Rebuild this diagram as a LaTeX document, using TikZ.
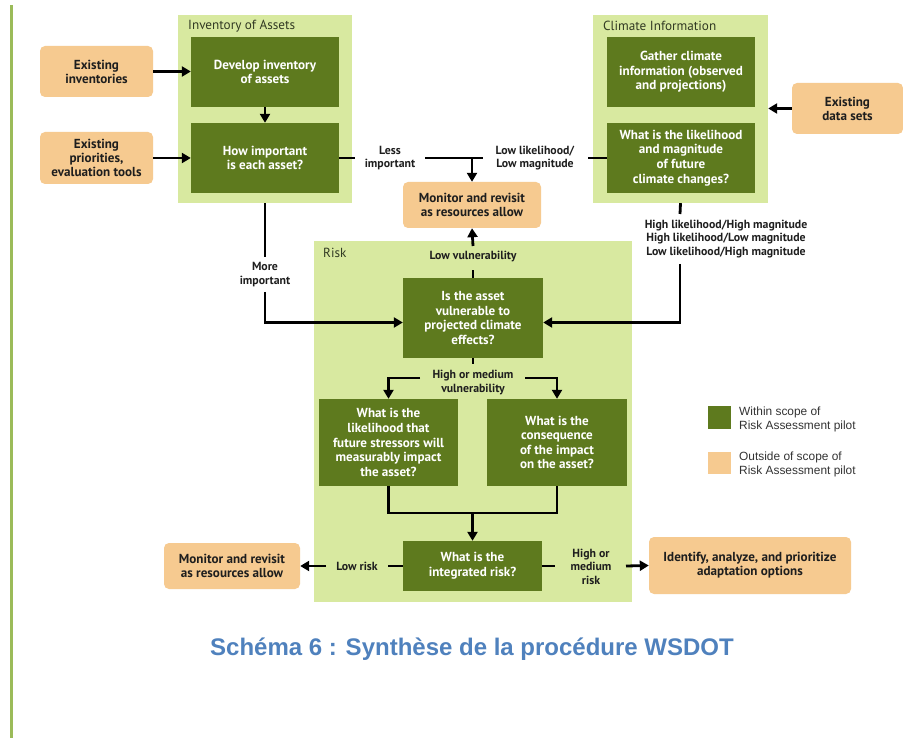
\documentclass[tikz,border=0pt]{standalone}
\usepackage{fontspec}
\setmainfont{PT Sans}
\newfontfamily\legfont{Liberation Sans}
\usetikzlibrary{arrows.meta}
\definecolor{dkgreen}{RGB}{94,122,30}
\definecolor{panelgreen}{RGB}{216,233,160}
\definecolor{orangebox}{RGB}{246,202,144}
\definecolor{barcol}{RGB}{155,187,89}
\definecolor{capblue}{RGB}{79,129,189}
\definecolor{txtdark}{RGB}{30,30,30}
\definecolor{titlecol}{RGB}{50,58,35}
\tikzset{
  panel/.style={fill=panelgreen, draw=none, inner sep=0pt},
  darkbox/.style={fill=dkgreen, draw=none, inner sep=0pt, align=center, text=white,
     font=\bfseries\fontsize{13.1}{14.6}\selectfont},
  orbox/.style={fill=orangebox, draw=none, rounded corners=5pt, inner sep=0pt, align=center,
     text=txtdark, font=\bfseries\fontsize{13.1}{14}\selectfont},
  lbl/.style={align=center, text=txtdark, inner sep=0pt, font=\bfseries\fontsize{11.8}{13.5}\selectfont},
  ptitle/.style={anchor=west, inner sep=0pt, text=titlecol, font=\fontsize{13.2}{14}\selectfont},
  conn/.style={line width=2.8pt, draw=black},
  arr/.style={conn, -{Triangle[length=9pt,width=10pt]}},
  legtxt/.style={anchor=west, align=left, inner sep=0pt, text=black!80, font=\legfont\fontsize{11.9}{14}\selectfont}
}
\begin{document}
\begin{tikzpicture}[x=1pt,y=-1pt]
\useasboundingbox (0,0) rectangle (903,738);
\fill[white] (0,0) rectangle (903,738);
% left bar
\fill[barcol] (10,5) rectangle (13,738);

% panels
\node[panel, minimum width=174, minimum height=188] (inv) at (265,109) {};
\node[panel, minimum width=175, minimum height=188] (clim) at (680.5,109) {};
\node[panel, minimum width=318, minimum height=361] (risk) at (473,421.5) {};
\node[ptitle] (invt) at (188,26) {Inventory of Assets};
\node[ptitle] (climt) at (603,26) {Climate Information};
\node[ptitle] (riskt) at (323,253) {Risk};

% dark boxes
\node[darkbox, minimum width=148, minimum height=70] (dev) at (265,72) {Develop inventory\\of assets};
\node[darkbox, minimum width=148, minimum height=70] (how) at (265,158) {How important\\is each asset?};
\node[darkbox, minimum width=148, minimum height=70] (gather) at (681,72) {Gather climate\\information (observed\\and projections)};
\node[darkbox, minimum width=148, minimum height=70] (like) at (681,158) {What is the likelihood\\and magnitude\\of future\\climate changes?};
\node[darkbox, minimum width=140, minimum height=80] (vul) at (473,318) {Is the asset\\vulnerable to\\projected climate\\effects?};
\node[darkbox, minimum width=139, minimum height=87] (stress) at (388.5,442.5) {What is the\\likelihood that\\future stressors will\\measurably impact\\the asset?};
\node[darkbox, minimum width=140, minimum height=87] (cons) at (557,442.5) {What is the\\consequence\\of the impact\\on the asset?};
\node[darkbox, minimum width=139, minimum height=50] (integ) at (472.5,566) {What is the\\integrated risk?};

% orange boxes
\node[orbox, minimum width=113, minimum height=51] (exinv) at (96.5,71.5) {Existing\\inventories};
\node[orbox, minimum width=113, minimum height=52] (expri) at (96.5,158) {Existing\\priorities,\\evaluation tools};
\node[orbox, minimum width=111, minimum height=51] (exdata) at (847.5,108.5) {Existing\\data sets};
\node[orbox, minimum width=138, minimum height=46] (mon1) at (472,205) {Monitor and revisit\\as resources allow};
\node[orbox, minimum width=136, minimum height=46] (mon2) at (232,566) {Monitor and revisit\\as resources allow};
\node[orbox, minimum width=202, minimum height=57] (ident) at (750,565.5) {Identify, analyze, and prioritize\\adaptation options};

% labels
\node[lbl] (lless) at (390,158) {Less\\important};
\node[lbl] (llow) at (535,158) {Low likelihood/\\Low magnitude};
\node[lbl] (lmore) at (265,274.5) {More\\important};
\node[lbl] (lhigh) at (726,239) {High likelihood/High magnitude\\High likelihood/Low magnitude\\Low likelihood/High magnitude};
\node[lbl] (llowv) at (473,257) {Low vulnerability};
\node[lbl] (lhmv) at (473,382.5) {High or medium\\vulnerability};
\node[lbl] (llr) at (357,566) {Low risk};
\node[lbl] (lhr) at (591,566.5) {High or\\medium\\risk};

% coordinates for free ends
\coordinate (li1) at (355,158);
\coordinate (li2) at (425,158);
\coordinate (li3) at (483,158);
\coordinate (ll1) at (588,158);
\coordinate (lv1) at (473,270);
\coordinate (lv2) at (473,246);
\coordinate (mi1) at (265,257);
\coordinate (mi2) at (265,292);
\coordinate (hl1) at (680,214);
\coordinate (hl2) at (680,264);
\coordinate (hm0) at (473,364);
\coordinate (hm1) at (420,378);
\coordinate (hm2) at (525,378);
\coordinate (jn) at (473,513);
\coordinate (lr1) at (388,566);
\coordinate (lr2) at (326,566);
\coordinate (hr1) at (555,566);
\coordinate (hr2) at (626,566);

% connectors
\draw[arr] (exinv.east) -- (exinv.east -| dev.west);
\draw[arr] (expri.east) -- (expri.east -| how.west);
\draw[arr] (dev.south) -- (how.north);
\draw[arr] (exdata.west) -- (exdata.west -| clim.east);
\draw[conn] (how.east) -- (li1);
\draw[conn] (li2) -- (li3);
\draw[arr] (mon1.north |- li2) -- (mon1.north);
\draw[conn] (ll1) -- (like.west);
\draw[conn] (vul.north) -- (lv1);
\draw[arr] (lv2) -- (mon1.south);
\draw[conn] (inv.south) -- (mi1);
\draw[arr] (mi2) -- ([yshift=-4.5pt]vul.west -| mi2) -- ([yshift=-4.5pt]vul.west);
\draw[conn] (clim.south) -- (hl1);
\draw[arr] (hl2) -- ([yshift=-4.5pt]vul.east -| hl2) -- ([yshift=-4.5pt]vul.east);
\draw[conn] (vul.south) -- (hm0);
\draw[arr] (hm1) -- (stress.north |- hm1) -- (stress.north);
\draw[arr] (hm2) -- (cons.north |- hm2) -- (cons.north);
\draw[conn] (stress.south) -- (stress.south |- jn) -- (cons.south |- jn) -- (cons.south);
\draw[arr] (integ.north |- jn) -- (integ.north);
\draw[conn] (integ.west) -- (lr1);
\draw[arr] (lr2) -- (mon2.east);
\draw[conn] (integ.east) -- (hr1);
\draw[arr] (hr2) -- (ident.west);

% legend
\node[fill=dkgreen, minimum width=23, minimum height=23, inner sep=0pt] (legd) at (719.5,417.5) {};
\node[fill=orangebox, minimum width=23, minimum height=22, inner sep=0pt] (lego) at (719.5,463) {};
\node[legtxt] (legdt) at (739,419) {Within scope of\\Risk Assessment pilot};
\node[legtxt] (legot) at (739,464) {Outside of scope of\\Risk Assessment pilot};

% caption
\node[inner sep=0pt, text=capblue, font=\legfont\bfseries\fontsize{24}{26}\selectfont] (cap) at (472,649) {Schéma 6 : Synthèse de la procédure WSDOT};
\end{tikzpicture}
\end{document}
